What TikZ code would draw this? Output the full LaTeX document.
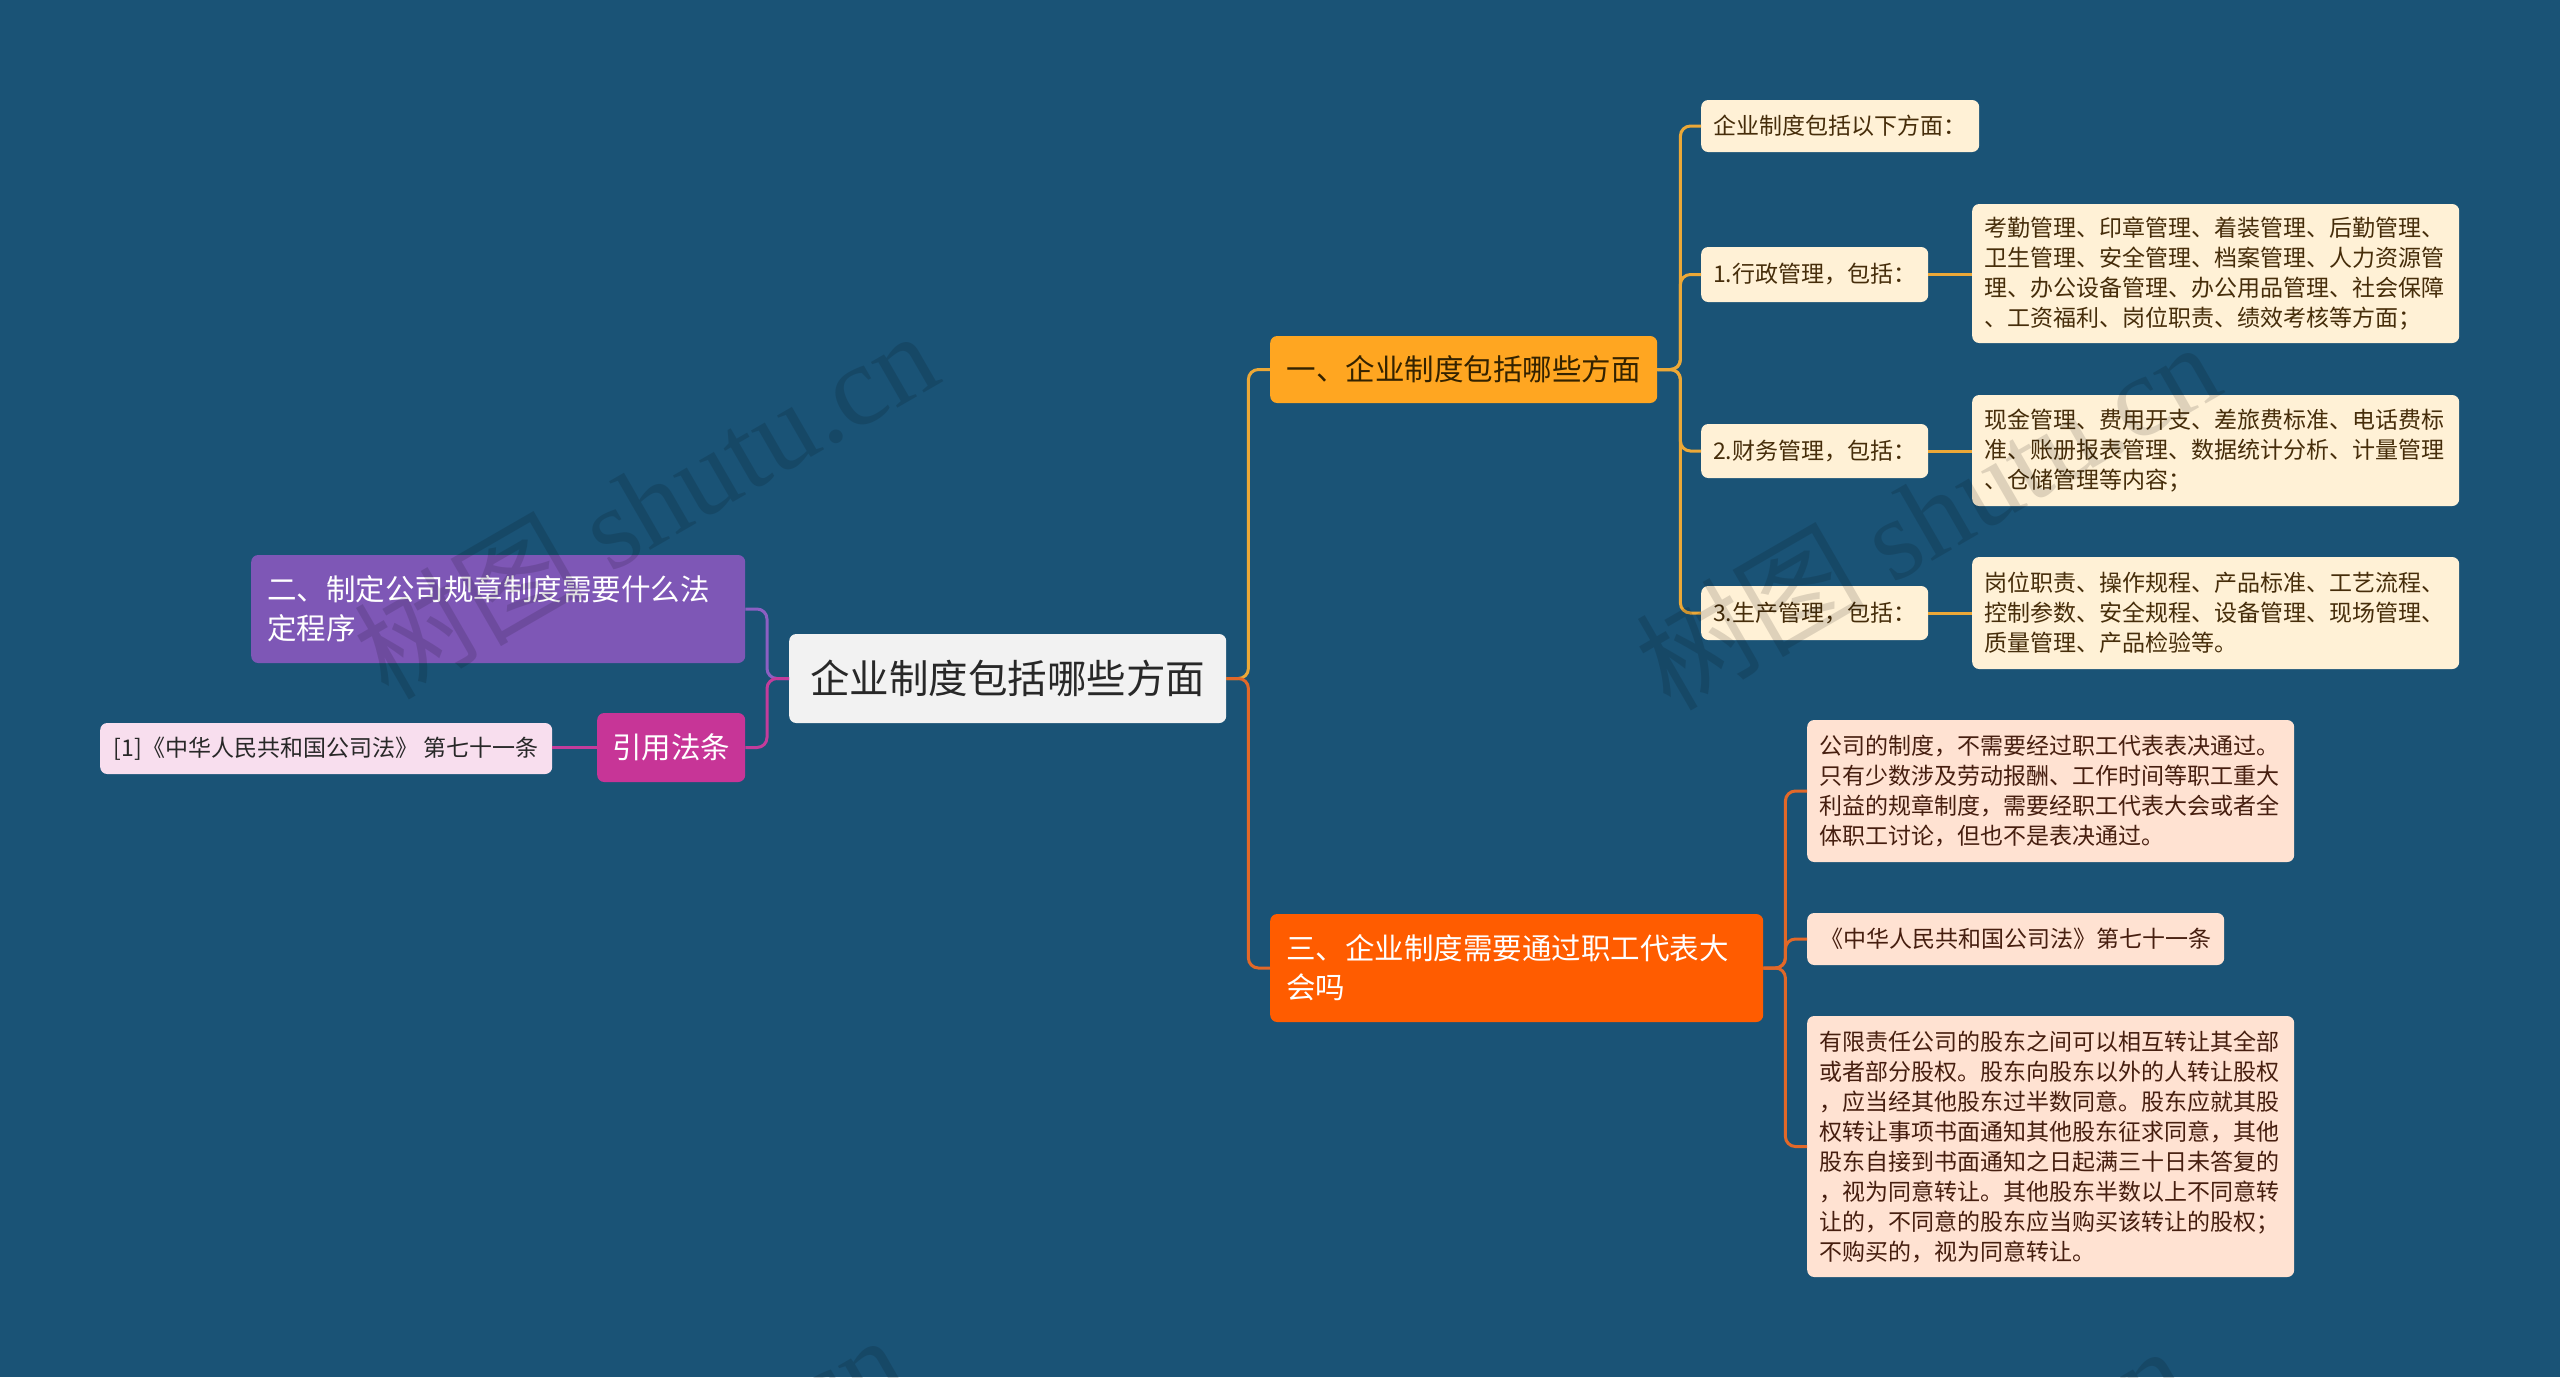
\documentclass[tikz,border=0pt]{standalone}
\usepackage{fontspec}
\setmainfont{Noto Sans CJK SC}
\newfontfamily\wmlatin{Liberation Serif}
\definecolor{bgc}{RGB}{26,83,118}
\definecolor{cfill}{RGB}{242,242,242}
\definecolor{ctext}{RGB}{40,40,40}
\definecolor{afill}{RGB}{255,166,33}
\definecolor{atext}{RGB}{51,34,0}
\definecolor{cream}{RGB}{255,241,214}
\definecolor{creamtext}{RGB}{70,45,10}
\definecolor{lineA}{RGB}{236,168,55}
\definecolor{bfill}{RGB}{255,92,0}
\definecolor{peach}{RGB}{255,226,210}
\definecolor{peachtext}{RGB}{70,30,15}
\definecolor{lineB}{RGB}{226,104,40}
\definecolor{lfill}{RGB}{126,87,182}
\definecolor{lineL}{RGB}{140,95,195}
\definecolor{mfill}{RGB}{199,53,151}
\definecolor{lineM}{RGB}{195,60,155}
\definecolor{pinkfill}{RGB}{248,222,238}
\begin{document}
\begin{tikzpicture}[x=1pt,y=-1pt,
  box/.style={rounded corners=7pt, inner ysep=0pt, anchor=west},
  single/.style={box, inner xsep=0pt},
  multi/.style={box, align=left},
  big/.style={font=\fontsize{29.5}{39}\selectfont},
  small/.style={font=\fontsize{23}{30}\selectfont},
  lvA/.style={fill=cream, text=creamtext, small},
  lvB/.style={fill=peach, text=peachtext, small},
  conn/.style={line width=3pt, rounded corners=10pt},
  wm/.style={rotate=30, text=black, opacity=0.13, font=\fontsize{115}{120}\selectfont}
]
\fill[bgc] (0,0) rectangle (2560,1377);
\useasboundingbox (0,0) rectangle (2560,1377);

% central
\node[single, fill=cfill, text=ctext, minimum width=437pt, minimum height=89pt,
  font=\fontsize{39.5}{46}\selectfont] (C) at (789,678.5) {企业制度包括哪些方面};

% level 1
\node[single, fill=afill, text=atext, big, minimum width=387pt, minimum height=67pt] (A) at (1270,369.5) {一、企业制度包括哪些方面};
\node[multi, fill=bfill, text=white, big, inner xsep=16pt, text width=461pt, minimum height=108pt] (B) at (1270,968) {三、企业制度需要通过职工代表大\\会吗};
\node[multi, fill=lfill, text=white, big, inner xsep=16pt, text width=462pt, minimum height=108pt] (L1) at (251,609) {二、制定公司规章制度需要什么法\\定程序};
\node[single, fill=mfill, text=white, big, minimum width=148pt, minimum height=69pt] (L2) at (597,747.5) {引用法条};
\node[single, fill=pinkfill, text=ctext, small, minimum width=452pt, minimum height=51pt] (L3) at (100,748.5) {[1]《中华人民共和国公司法》 第七十一条};

% level 2 (A)
\node[single, lvA, minimum width=278pt, minimum height=52pt] (A0) at (1701,126) {企业制度包括以下方面：};
\node[single, lvA, minimum width=227pt, minimum height=55pt] (A1) at (1701,274.5) {1.行政管理，包括：};
\node[single, lvA, minimum width=227pt, minimum height=54pt] (A2) at (1701,451) {2.财务管理，包括：};
\node[single, lvA, minimum width=227pt, minimum height=54pt] (A3) at (1701,613) {3.生产管理，包括：};

\node[multi, lvA, inner xsep=12pt, text width=463pt, minimum height=139pt] (A1d) at (1972,273.5) {考勤管理、印章管理、着装管理、后勤管理、\\卫生管理、安全管理、档案管理、人力资源管\\理、办公设备管理、办公用品管理、社会保障\\、工资福利、岗位职责、绩效考核等方面；};
\node[multi, lvA, inner xsep=12pt, text width=463pt, minimum height=111pt] (A2d) at (1972,450.5) {现金管理、费用开支、差旅费标准、电话费标\\准、账册报表管理、数据统计分析、计量管理\\、仓储管理等内容；};
\node[multi, lvA, inner xsep=12pt, text width=463pt, minimum height=112pt] (A3d) at (1972,613) {岗位职责、操作规程、产品标准、工艺流程、\\控制参数、安全规程、设备管理、现场管理、\\质量管理、产品检验等。};

% level 2 (B)
\node[multi, lvB, inner xsep=12pt, text width=463pt, minimum height=142pt] (B1) at (1807,791) {公司的制度，不需要经过职工代表表决通过。\\只有少数涉及劳动报酬、工作时间等职工重大\\利益的规章制度，需要经职工代表大会或者全\\体职工讨论，但也不是表决通过。};
\node[single, lvB, minimum width=417pt, minimum height=52pt] (B2) at (1807,939) {《中华人民共和国公司法》第七十一条};
\node[multi, lvB, inner xsep=12pt, text width=463pt, minimum height=261pt] (B3) at (1807,1146.5) {有限责任公司的股东之间可以相互转让其全部\\或者部分股权。股东向股东以外的人转让股权\\，应当经其他股东过半数同意。股东应就其股\\权转让事项书面通知其他股东征求同意，其他\\股东自接到书面通知之日起满三十日未答复的\\，视为同意转让。其他股东半数以上不同意转\\让的，不同意的股东应当购买该转让的股权；\\不购买的，视为同意转让。};

% connectors
\draw[conn, lineA] (C.east) -- ++(22,0) |- (A.west);
\draw[conn, lineB] (C.east) -- ++(22,0) |- (B.west);
\foreach \n in {A0,A1,A2,A3} {\draw[conn, lineA] (A.east) -- ++(23,0) |- (\n.west);}
\draw[conn, lineA] (A1.east) -- (A1.east -| A1d.west);
\draw[conn, lineA] (A2.east) -- (A2.east -| A2d.west);
\draw[conn, lineA] (A3.east) -- (A3.east -| A3d.west);
\foreach \n in {B1,B2,B3} {\draw[conn, lineB] (B.east) -- ++(22,0) |- (\n.west);}
\draw[conn, lineL] (C.west) -- ++(-22,0) |- (L1.east);
\draw[conn, lineM] (C.west) -- ++(-22,0) |- (L2.east);
\draw[conn, lineM] (L2.west) -- (L2.west -| L3.east);

% watermarks
\begin{scope}
\clip (0,0) rectangle (2560,1377);
\node[wm] (w1) at (645,503) {树图 {\wmlatin shutu.cn}};
\node[wm] (w2) at (1927,514) {树图 {\wmlatin shutu.cn}};
\node[wm] (w3) at (612,1507) {树图 {\wmlatin shutu.cn}};
\node[wm] (w4) at (1894,1518) {树图 {\wmlatin shutu.cn}};
\end{scope}
\end{tikzpicture}
\end{document}
